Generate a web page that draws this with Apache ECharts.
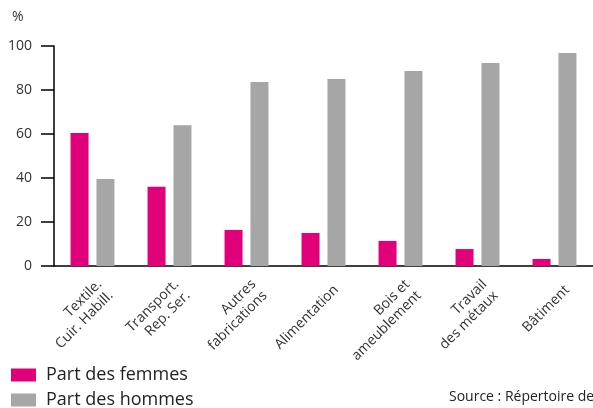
<!DOCTYPE html>
<html><head><meta charset="utf-8">
<script src="https://cdn.jsdelivr.net/npm/echarts@6/dist/echarts.min.js"></script>
<style>html,body{margin:0;padding:0;background:#fff}#c{width:593px;height:408px}</style>
</head><body><div id="c"></div>
<script>
const categories = ["Textile.\nCuir. Habill.", "Transport.\nRep. Ser.", "Autres\nfabrications", "Alimentation", "Bois et\nameublement", "Travail\ndes métaux", "Bâtiment"];
const femmes = [60.5, 36, 16.4, 15, 11.4, 7.7, 3.2];
const hommes = [39.5, 64, 83.6, 85, 88.6, 92.3, 96.8];
const yTicks = [0, 20, 40, 60, 80, 100];
const legendNames = ['Part des femmes', 'Part des hommes'];

const FONT = "'Open Sans', sans-serif";
const chart = echarts.init(document.getElementById('c'), null, {renderer: 'canvas'});
const legendBase = {
  orient: 'vertical', left: 11, itemWidth: 25, itemHeight: 13, itemGap: 0,
  icon: 'rect', padding: 0,
  textStyle: {fontSize: 18, lineHeight: 18, color: '#222', fontFamily: FONT, padding: [0, 0, 0, 5]}
};
chart.setOption({
  animation: false,
  textStyle: {fontFamily: FONT},
  title: {text: '%', left: 12, top: 10, padding: 0, textStyle: {fontSize: 14, fontWeight: 'normal', color: '#333', fontFamily: FONT}},
  grid: {left: 54, top: 46, bottom: 142, right: -6, containLabel: false},
  legend: [
    Object.assign({}, legendBase, {top: 366, data: [legendNames[0]]}),
    Object.assign({}, legendBase, {top: 391, data: [legendNames[1]]})
  ],
  graphic: [{type: 'text', left: 449, top: 390, style: {text: 'Source : Répertoire des métiers', fontSize: 14, fill: '#222', fontFamily: FONT}}],
  xAxis: {
    type: 'category', data: categories,
    axisLine: {lineStyle: {color: '#000', width: 1.5}},
    axisTick: {inside: true, length: 5, lineStyle: {color: '#000', width: 1.5}},
    axisLabel: {
      rotate: 45, margin: 9, interval: 0, color: '#333', fontSize: 14, lineHeight: 16, fontFamily: FONT,
      formatter: v => '{s| }\n' + v.split('\n').map(l => '{t|' + l + '}').join('\n'),
      rich: {
        s: {fontSize: 2, lineHeight: 36},
        t: {fontSize: 14, lineHeight: 16, color: '#333', fontFamily: FONT, align: 'right'}
      }
    }
  },
  yAxis: {
    type: 'value', min: yTicks[0], max: yTicks[yTicks.length - 1], interval: 20,
    splitLine: {show: false},
    axisLine: {show: true, lineStyle: {color: '#000', width: 1.5}},
    axisTick: {show: true, length: 13, lineStyle: {color: '#000', width: 1.5}},
    axisLabel: {margin: 22, color: '#333', fontSize: 14, fontFamily: FONT}
  },
  series: [
    {name: legendNames[0], type: 'bar', data: femmes, barWidth: 18, barGap: '44%', itemStyle: {color: '#E2007A'}},
    {name: legendNames[1], type: 'bar', data: hommes, barWidth: 18, itemStyle: {color: '#A6A6A6'}}
  ]
});
</script></body></html>
